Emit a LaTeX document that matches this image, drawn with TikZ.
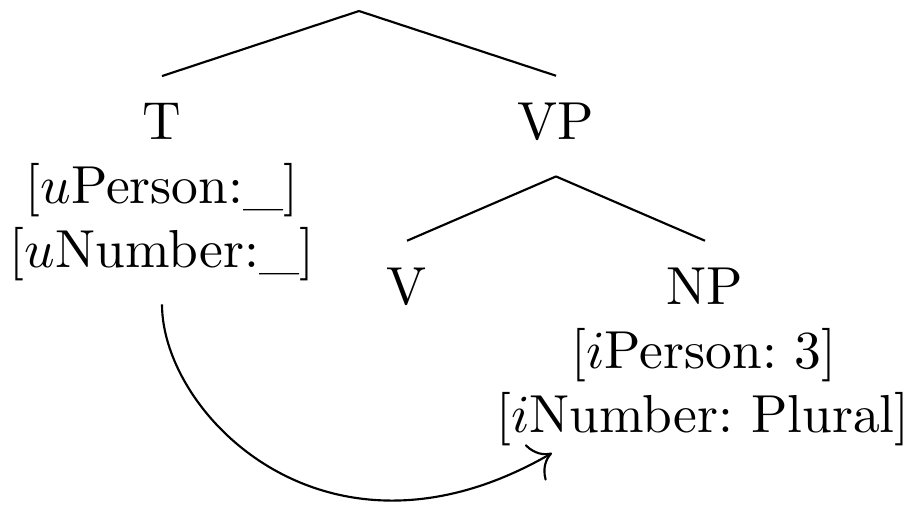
\documentclass[tikz,border=0pt]{standalone}
\usetikzlibrary{arrows.meta}
\frenchspacing
\begin{document}
\begin{tikzpicture}[
        x=0.187pt, y=0.187pt,
        cat/.style={anchor=base, inner sep=0pt, outer ysep=5pt, text depth=2pt},
        feat/.style={anchor=base, inner sep=0pt, outer ysep=4.5pt},
        branch/.style={thin},
        agree/.style={-{To[scale=1.5]}, thin}
    ]
        \useasboundingbox (0,0) rectangle (910,-508);

        % Top of the tree
        \coordinate (root) at (359,-11);
        \node[cat] (T) at (162,-139) {T};
        \node[feat] (Tper) at (162,-203) {[$u$Person:\_]};
        \node[feat] (Tnum) at (162,-267) {[$u$Number:\_]};
        \node[cat] (VP) at (556,-139) {VP};

        % Inside VP
        \node[cat] (V) at (407,-304) {V};
        \node[cat] (NP) at (705,-304) {NP};
        \node[feat] (NPper) at (704,-368) {[$i$Person: 3]};
        \node[feat] (NPnum) at (703,-432) {[$i$Number: Plural]};
        \coordinate (NPgoal) at (552,-453);

        % Branches
        \draw[branch] (root) -- (T.north);
        \draw[branch] (root) -- (VP.north);
        \draw[branch] (VP.south) -- (V.north);
        \draw[branch] (VP.south) -- (NP.north);

        % Agreement
        \draw[agree] (Tnum.south) .. controls +(0,-110) and +(-225,-130) .. (NPgoal);

    \end{tikzpicture}
\end{document}
